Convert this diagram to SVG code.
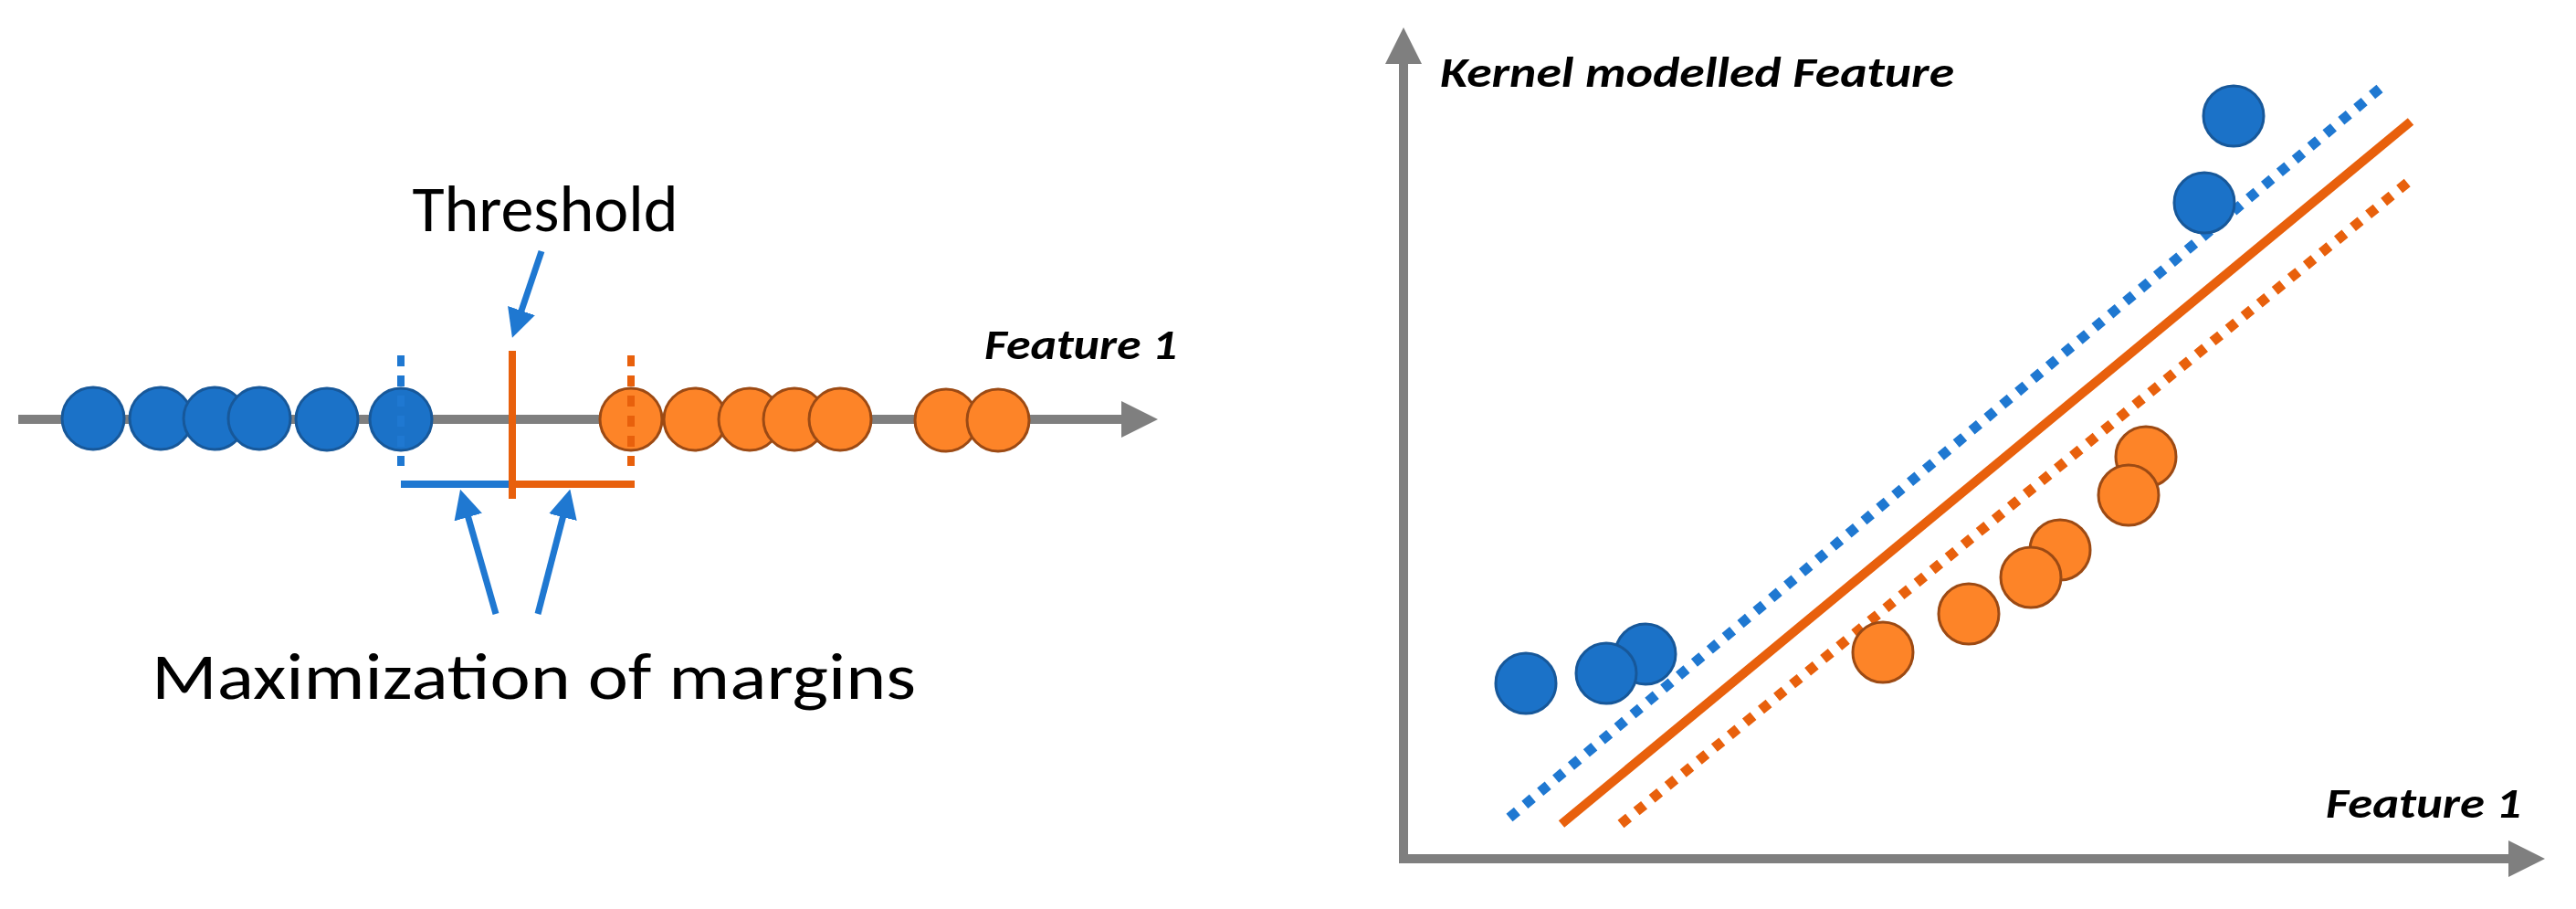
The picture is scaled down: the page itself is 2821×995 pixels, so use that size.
<svg xmlns="http://www.w3.org/2000/svg" width="2821" height="995" viewBox="0 0 2821 995">
<style>
.b{fill:#1b72c8;stroke:#17589a;stroke-width:3}
.o{fill:#fd8428;stroke:#9c4a14;stroke-width:3}
.ax{stroke:#7f7f7f;stroke-width:10;fill:none}
.t{font-family:Calibri,Carlito,"Open Sans","Liberation Sans",sans-serif;fill:#000}
.fi{font-weight:bold;font-style:italic}
</style>
<defs>
<marker id="ga" viewBox="0 0 10 10" refX="2" refY="5" markerWidth="4" markerHeight="4" orient="auto" markerUnits="strokeWidth"><path d="M0,0L10,5L0,10z" fill="#7f7f7f"/></marker>
<marker id="ba" viewBox="0 0 10 10" refX="2" refY="5" markerWidth="4.5" markerHeight="4.5" orient="auto" markerUnits="strokeWidth"><path d="M0,0L10,5L0,10z" fill="#1f78d1"/></marker>
</defs>
<rect width="2821" height="995" fill="#fff"/>
<g id="connectors">
<line class="ax" x1="20" y1="459" x2="1236" y2="459" marker-end="url(#ga)"/>
<line class="ax" x1="1537" y1="942" x2="1537" y2="62" marker-end="url(#ga)"/>
<line class="ax" x1="1532" y1="940" x2="2755" y2="940" marker-end="url(#ga)"/>
<line x1="593" y1="275" x2="569" y2="346" stroke="#1f78d1" stroke-width="7" marker-end="url(#ba)"/>
<line x1="543" y1="672" x2="511" y2="560" stroke="#1f78d1" stroke-width="7" marker-end="url(#ba)"/>
<line x1="589" y1="672" x2="618" y2="560" stroke="#1f78d1" stroke-width="7" marker-end="url(#ba)"/>
</g>
<g id="left-points">
<circle class="b" cx="102" cy="458" r="34"/>
<circle class="b" cx="176" cy="458" r="34"/>
<circle class="b" cx="235" cy="458" r="34"/>
<circle class="b" cx="284" cy="458" r="34"/>
<circle class="b" cx="358" cy="459" r="34"/>
<circle class="b" cx="439" cy="459" r="34"/>
<circle class="o" cx="691" cy="459" r="34"/>
<circle class="o" cx="761" cy="459" r="34"/>
<circle class="o" cx="821" cy="459" r="34"/>
<circle class="o" cx="870" cy="459" r="34"/>
<circle class="o" cx="920" cy="459" r="34"/>
<circle class="o" cx="1036" cy="460" r="34"/>
<circle class="o" cx="1093" cy="460" r="34"/>
</g>
<g id="margins">
<line x1="439" y1="389" x2="439" y2="510" stroke="#1f78d1" stroke-width="8" stroke-dasharray="12 10"/>
<line x1="691" y1="389" x2="691" y2="510" stroke="#e8600c" stroke-width="8" stroke-dasharray="12 10"/>
<line x1="439" y1="530" x2="561" y2="530" stroke="#1f78d1" stroke-width="8"/>
<line x1="561" y1="530" x2="695" y2="530" stroke="#e8600c" stroke-width="8"/>
<line x1="561" y1="384" x2="561" y2="546" stroke="#e8600c" stroke-width="8"/>
</g>
<g id="left-labels">
<text class="t" x="597" y="253" font-size="72" text-anchor="middle">Threshold</text>
<text class="t" x="166" y="765" font-size="72" textLength="837" lengthAdjust="spacingAndGlyphs">Maximization of margins</text>
<text class="t fi" x="1078" y="393" font-size="46" textLength="211" lengthAdjust="spacingAndGlyphs">Feature 1</text>
</g>
<g id="right-lines">
<line x1="1653" y1="895" x2="2612" y2="92" stroke="#1f78d1" stroke-width="11" stroke-dasharray="11 11"/>
<line x1="1710" y1="902" x2="2640" y2="133" stroke="#e8600c" stroke-width="10"/>
<line x1="1775" y1="902" x2="2640" y2="197" stroke="#e8600c" stroke-width="11" stroke-dasharray="11 11"/>
</g>
<g id="right-points">
<circle class="b" cx="1671" cy="748" r="33"/>
<circle class="b" cx="1802" cy="716" r="33"/>
<circle class="b" cx="1759" cy="737" r="33"/>
<circle class="b" cx="2414" cy="222" r="33"/>
<circle class="b" cx="2446" cy="127" r="33"/>
<circle class="o" cx="2062" cy="714" r="33"/>
<circle class="o" cx="2156" cy="672" r="33"/>
<circle class="o" cx="2256" cy="602" r="33"/>
<circle class="o" cx="2224" cy="632" r="33"/>
<circle class="o" cx="2350" cy="500" r="33"/>
<circle class="o" cx="2331" cy="542" r="33"/>
</g>
<g id="right-labels">
<text class="t fi" x="1577" y="95" font-size="46" textLength="563" lengthAdjust="spacingAndGlyphs">Kernel modelled Feature</text>
<text class="t fi" x="2547" y="895" font-size="46" textLength="214" lengthAdjust="spacingAndGlyphs">Feature 1</text>
</g>
</svg>
